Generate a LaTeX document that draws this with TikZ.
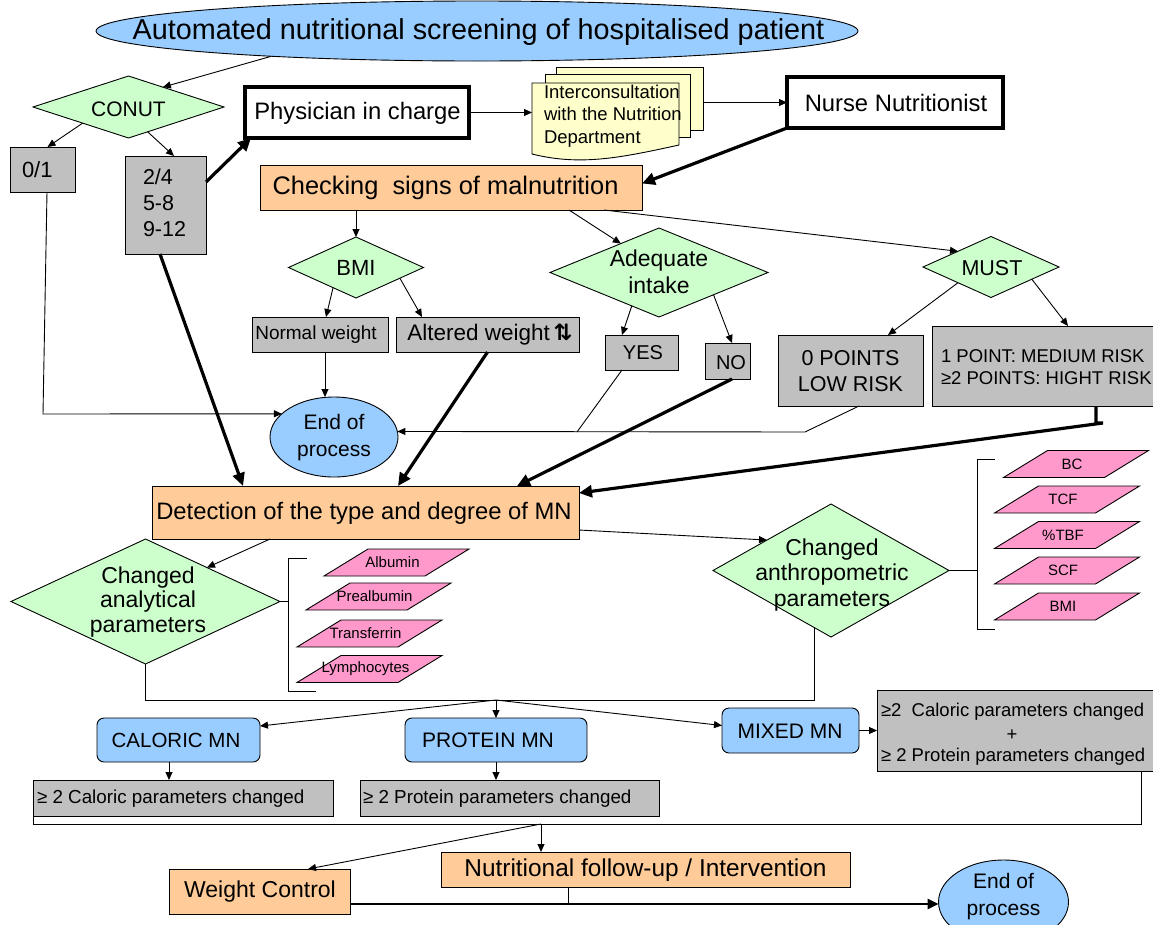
\documentclass[tikz,border=0pt]{standalone}
\usepackage{fontspec}
\setmainfont{Liberation Sans}
\newfontfamily\djv{DejaVu Sans}
\usetikzlibrary{shapes.geometric,arrows.meta,calc}
\definecolor{cblue}{HTML}{99CCFF}
\definecolor{cgreen}{HTML}{CCFFCC}
\definecolor{cgray}{HTML}{C0C0C0}
\definecolor{corange}{HTML}{FFCC99}
\definecolor{cyellow}{HTML}{FFFFCC}
\definecolor{cpink}{HTML}{FF99CC}
\newcommand\fsz[2]{\fontsize{#1}{#2}\selectfont}
\newcommand\mypara[4]{%
  \path[draw=black, line width=0.9pt, fill=cpink] ({#2-72.5},{#3+13.5}) -- ({#2+28.5},{#3+13.5}) -- ({#2+72.5},{#3-13.5}) -- ({#2-28.5},{#3-13.5}) -- cycle;
  \node[font={\fsz{15}{17}}] (#1) at ({#2-4},#3) {#4};
}
\begin{document}
\begin{tikzpicture}[x=1pt, y=-1pt,
  every node/.style={inner sep=0pt, outer sep=0pt},
  plain/.style={draw, line width=0.9pt},
  thinarr/.style={draw, line width=0.9pt, -{Triangle[length=8pt,width=7pt]}},
  thickarr/.style={draw, line width=3.2pt, -{Triangle[length=13pt,width=12pt]}},
  thickline/.style={draw, line width=3.2pt},
  graybox/.style={draw, line width=0.9pt, fill=cgray, rectangle},
  orbox/.style={draw, line width=0.9pt, fill=corange, rectangle},
  bluebox/.style={draw, line width=0.9pt, fill=cblue, rectangle, rounded corners=7pt},
  dia/.style={draw, line width=0.9pt, fill=cgreen, diamond},
  thickbox/.style={draw, line width=4pt, fill=white, rectangle},
  endell/.style={draw, line width=0.9pt, fill=cblue, ellipse},
  docpg/.style={draw, line width=0.9pt, fill=cyellow, rectangle}]
\useasboundingbox (0,0) rectangle (1153,924);
\fill[white] (0,0) rectangle (1153,924);

% title
\node[endell, minimum width=762pt, minimum height=60pt] (title) at (477,31) {};
\node[font={\fsz{28.8}{30}}] (titleT) at (478.5,32) {Automated nutritional screening of hospitalised patient};

% CONUT
\node[dia, minimum width=191pt, minimum height=62pt] (conut) at (128.5,107) {};
\node[font={\fsz{21}{22}}] (conutT) at (128.5,109) {CONUT};
\node[graybox, minimum width=65pt, minimum height=45pt] (b01) at (42.5,169.5) {};
\node[font={\fsz{22}{22}}, anchor=west] (b01T) at (22,170) {0/1};
\node[graybox, minimum width=81pt, minimum height=98pt] (b24) at (165.5,205) {};
\node[font={\fsz{21.5}{26}}, align=left, anchor=west] (b24T) at (143,203) {2/4\\5-8\\9-12};

% physician / docs / nurse
\node[thickbox, minimum width=224pt, minimum height=51pt] (phys) at (357,112.5) {};
\node[font={\fsz{23.8}{26}}] (physT) at (357.5,113) {Physician in charge};
\node[docpg, minimum width=147pt, minimum height=63pt] (docB) at (629.5,98.5) {};
\node[docpg, minimum width=145pt, minimum height=63pt] (docM) at (617.5,105.5) {};
\node[minimum width=147pt, minimum height=72pt] (docF) at (605.5,119) {};
\path[draw=black, line width=0.9pt, fill=cyellow] (532,83) -- (679,83) -- (679,145)
  .. controls (620,158) and (580,166) .. (532,154) -- cycle;
\node[font={\fsz{18.5}{22.5}}, align=left, anchor=west] (docT) at (544,116) {Interconsultation\\with the Nutrition\\Department};
\node[thickbox, minimum width=216pt, minimum height=51pt] (nurse) at (895,102.5) {};
\node[font={\fsz{23.8}{26}}] (nurseT) at (896,103) {Nurse Nutritionist};

% checking
\node[orbox, minimum width=382pt, minimum height=45pt] (check) at (451,187.5) {};
\node[font={\fsz{25.4}{28}}] (checkT) at (445.5,188) {Checking~~signs of malnutrition};

% BMI / adequate / MUST
\node[dia, minimum width=135pt, minimum height=61pt] (bmi) at (356,267.5) {};
\node[font={\fsz{22}{24}}] (bmiT) at (356,268) {BMI};
\node[dia, minimum width=218pt, minimum height=89pt] (adeq) at (659,272.5) {};
\node[font={\fsz{23}{27}}, align=center] (adeqT) at (659,272) {Adequate\\intake};
\node[dia, minimum width=136pt, minimum height=61pt] (must) at (991,267) {};
\node[font={\fsz{21.5}{24}}] (mustT) at (992,268) {MUST};

\node[graybox, minimum width=136pt, minimum height=35pt] (normw) at (320,334.5) {};
\node[font={\fsz{19}{21}}] (normwT) at (316,335) {Normal weight};
\node[graybox, minimum width=183pt, minimum height=35pt] (altw) at (487.5,334.5) {};
\node[font={\fsz{22.5}{24}}] (altwT) at (490,335) {Altered weight\,{\djv\bfseries ⇅}};
\node[graybox, minimum width=73pt, minimum height=35pt] (yes) at (641.5,352.5) {};
\node[font={\fsz{20}{21}}] (yesT) at (643,353) {YES};
\node[graybox, minimum width=45pt, minimum height=36pt] (no) at (727.5,361) {};
\node[font={\fsz{20}{22}}] (noT) at (731,363) {NO};
\node[graybox, minimum width=145pt, minimum height=71pt] (zero) at (850.5,370.5) {};
\node[font={\fsz{21.5}{25.5}}, align=center] (zeroT) at (850.5,371) {0 POINTS\\LOW RISK};
\node[graybox, minimum width=224pt, minimum height=80pt] (onept) at (1044,366) {};
\node[font={\fsz{18.5}{21.5}}, align=left, anchor=west] (oneptT) at (941,367) {1 POINT: MEDIUM RISK\\≥2 POINTS: HIGHT RISK};

\node[endell, minimum width=128pt, minimum height=80pt] (end1) at (334,437) {};
\node[font={\fsz{21}{27}}, align=center] (end1T) at (334,438) {End of\\process};

% detection
\node[orbox, minimum width=427pt, minimum height=53pt] (detect) at (365.5,512.5) {};
\node[font={\fsz{23.8}{26}}] (detectT) at (364,513) {Detection of the type and degree of MN};

\node[dia, minimum width=269pt, minimum height=125pt] (anal) at (145.5,601.5) {};
\node[font={\fsz{23}{24.5}}, align=center] (analT) at (148,602) {Changed\\analytical\\parameters};
\node[dia, minimum width=236pt, minimum height=133pt] (anth) at (831,570.5) {};
\node[font={\fsz{23}{25.5}}, align=center] (anthT) at (832,575) {Changed\\anthropometric\\parameters};

\mypara{pAlb}{396.5}{562.5}{Albumin}
\mypara{pPre}{378.5}{596.5}{Prealbumin}
\mypara{pTra}{369.5}{633.5}{Transferrin}
\mypara{pLym}{369.5}{669}{Lymphocytes}
\mypara{pBC}{1076}{464}{BC}
\mypara{pTCF}{1067}{499.5}{TCF}
\mypara{pTBF}{1067}{535}{\%TBF}
\mypara{pSCF}{1067}{570.5}{SCF}
\mypara{pBMI}{1067}{606.5}{BMI}

% brackets
\coordinate (brA) at (288,601.5);
\draw[plain] (anal.east) -- (brA);
\draw[plain] (307,558) -- (288,558) -- (288,691) -- (316,691);
\coordinate (brB) at (977,570.5);
\draw[plain] (anth.east) -- (brB);
\draw[plain] (995,459) -- (977,459) -- (977,629) -- (995,629);

% MN types
\node[bluebox, minimum width=163pt, minimum height=44pt] (caloric) at (178.5,740) {};
\node[font={\fsz{20.5}{22}}] (caloricT) at (176,740) {CALORIC MN};
\node[bluebox, minimum width=182pt, minimum height=44pt] (protein) at (496,740) {};
\node[font={\fsz{21}{22}}] (proteinT) at (488,740) {PROTEIN MN};
\node[bluebox, minimum width=137pt, minimum height=45pt] (mixed) at (790.5,730.5) {};
\node[font={\fsz{21}{22}}] (mixedT) at (790,731) {MIXED MN};

\node[graybox, minimum width=300pt, minimum height=36pt] (calpar) at (183,798) {};
\node[font={\fsz{18.8}{21}}, anchor=west] (calparT) at (37,799) {≥ 2 Caloric parameters changed};
\node[graybox, minimum width=299pt, minimum height=36pt] (protpar) at (509.5,798) {};
\node[font={\fsz{18.8}{21}}, anchor=west] (protparT) at (363,799) {≥ 2 Protein parameters changed};
\node[graybox, minimum width=279pt, minimum height=81pt] (mixpar) at (1016.5,730.5) {};
\node[font={\fsz{18.5}{21}}, anchor=west] (mixT1) at (881,712) {≥2~~Caloric parameters changed};
\node[font={\fsz{18.5}{21}}] (mixT2) at (1012,735) {+};
\node[font={\fsz{18.5}{21}}, anchor=west] (mixT3) at (881,757) {≥ 2 Protein parameters changed};

% follow-up
\node[orbox, minimum width=181pt, minimum height=45pt] (wc) at (259.5,891.5) {};
\node[font={\fsz{23}{25}}] (wcT) at (260,892) {Weight Control};
\node[orbox, minimum width=409pt, minimum height=35pt] (nutr) at (645.5,869.5) {};
\node[font={\fsz{24.4}{26}}] (nutrT) at (645.5,870) {Nutritional follow-up / Intervention};
\node[endell, minimum width=130pt, minimum height=84pt] (end2) at (1003.5,902) {};
\node[font={\fsz{21}{27}}, align=center] (end2T) at (1003.5,897) {End of\\process};

% ---------- connectors ----------
\draw[thinarr] (title.187) -- ($(conut.north)!0.36!(conut.east)$);
\draw[thinarr] ($(conut.west)!0.52!(conut.south)$) -- ([xshift=5pt]b01.north);
\draw[thinarr] ($(conut.south)!0.2!(conut.east)$) -- ([xshift=8.5pt]b24.north);
\draw[thickarr] ([yshift=23pt]b24.east) -- ([xshift=6pt]phys.south west);
\draw[thinarr] (phys.east) -- (phys.east -| docF.west);
\draw[thinarr] (docB.east |- nurse.west) -- (nurse.west);
\draw[thickarr] (nurse.south west) -- ([yshift=4pt]check.east);

\draw[thinarr] (bmi.north |- check.south) -- (bmi.north);
\draw[thinarr] ([xshift=118pt]check.south) -- ($(adeq.north)!0.35!(adeq.west)$);
\draw[thinarr] ([xshift=153pt]check.south) -- ($(must.north)!0.485!(must.west)$);

\draw[thinarr] ($(bmi.south)!0.34!(bmi.west)$) -- ([xshift=6pt]normw.north);
\draw[thinarr] ($(bmi.south)!0.65!(bmi.east)$) -- ([xshift=-65.5pt]altw.north);
\draw[thinarr] ($(adeq.south)!0.25!(adeq.west)$) -- ([xshift=-19.5pt]yes.north);
\draw[thinarr] ($(adeq.south)!0.5!(adeq.east)$) -- ([xshift=4.5pt]no.north);
\draw[thinarr] ($(must.south)!0.485!(must.west)$) -- ([xshift=37.5pt]zero.north);
\draw[thinarr] ($(must.south)!0.6!(must.east)$) -- ([xshift=24pt]onept.north);

\draw[thinarr] ([xshift=5pt]normw.south) -- ++(0,45);
\coordinate (c1) at (43,414);
\draw[thinarr] ([xshift=4.5pt]b01.south) -- (c1) -- (end1.156);
\coordinate (c2) at (805,432);
\draw[thinarr] ([xshift=8.5pt]zero.south) -- (c2) -- (end1.5);
\coordinate (c3) at (577,432);
\draw[plain] ([xshift=-19.5pt]yes.south) -- (c3);

\draw[thickarr] ([xshift=-5.5pt]b24.south) -- ([xshift=-122.5pt]detect.north);
\draw[thickarr] (altw.south) -- ([xshift=32.5pt]detect.north);
\draw[thickarr] ([xshift=4.5pt]no.south) -- ([xshift=151.5pt]detect.north);
\draw[thickarr] ([xshift=52pt]onept.south) -- ++(0,17) -- ++(7,0) -- ([yshift=-7pt]detect.north east);

\draw[thinarr] ([xshift=-95.5pt]detect.south) -- ($(anal.north)!0.457!(anal.east)$);
\draw[thinarr] ([yshift=-17.5pt]detect.east) -- ($(anth.north)!0.542!(anth.west)$);

\coordinate (jn) at (496,700);
\coordinate (anthB) at ($(anth.south)!0.144!(anth.west)$);
\draw[plain] (anal.south) |- (anthB |- jn) -- (anthB);
\draw[thinarr] (jn) -- ([yshift=-8pt]caloric.north east);
\draw[thinarr] (jn) -- (protein.north);
\draw[thinarr] (jn) -- ([yshift=5pt]mixed.west);
\draw[thinarr] (mixed.east) -- (mixed.east -| mixpar.west);
\draw[thinarr] ([xshift=-9.5pt]caloric.south) -- ([xshift=-9.5pt]caloric.south |- calpar.north);
\draw[thinarr] (protein.south) -- (protein.south |- protpar.north);

\coordinate (jn2) at (541,824);
\draw[plain] (calpar.south west) -- ++(0,8) -| ([xshift=-15pt]mixpar.south east);
\draw[thinarr] (jn2) -- (jn2 |- nutr.north);
\draw[thinarr] (jn2) -- ([xshift=48.5pt]wc.north);
\draw[plain] ([xshift=-77.5pt]nutr.south) -- ++(0,17);
\draw[line width=2.5pt, -{Triangle[length=11pt,width=10pt]}] ([yshift=-12.5pt]wc.east) -- ([yshift=-12.5pt]wc.east -| end2.west);
\end{tikzpicture}
\end{document}
